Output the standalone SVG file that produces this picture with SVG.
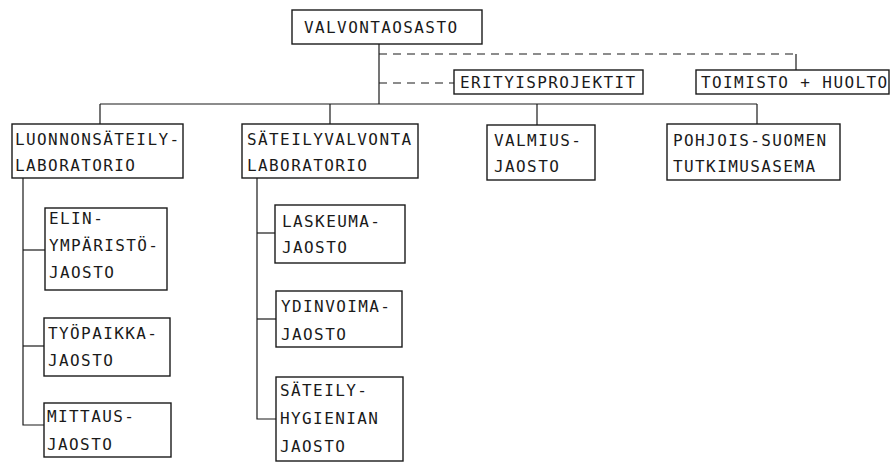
<svg xmlns="http://www.w3.org/2000/svg" width="891" height="462" viewBox="0 0 891 462">
<style>
  .box { fill: #ffffff; stroke: #1a1a1a; stroke-width: 1.4; }
  .t { font-family: "DejaVu Sans Mono", "Liberation Mono", monospace; font-size: 16px; letter-spacing: 1.4px; fill: #1a1a1a; }
  .ln { stroke: #1a1a1a; stroke-width: 1.2; fill: none; }
  .dash { stroke: #1a1a1a; stroke-width: 1.2; fill: none; stroke-dasharray: 8 6; }
</style>
<rect x="0" y="0" width="891" height="462" fill="#ffffff"/>
<g id="connectors">
  <line class="ln" x1="379" y1="44" x2="379" y2="104"/>
  <line class="dash" x1="379" y1="54" x2="796" y2="54"/>
  <line class="ln" x1="796" y1="54" x2="796" y2="70"/>
  <line class="dash" x1="379" y1="83" x2="454" y2="83"/>
  <line class="ln" x1="100" y1="104" x2="757" y2="104"/>
  <line class="ln" x1="100" y1="104" x2="100" y2="124"/>
  <line class="ln" x1="330" y1="104" x2="330" y2="124"/>
  <line class="ln" x1="537" y1="104" x2="537" y2="125"/>
  <line class="ln" x1="757" y1="104" x2="757" y2="124"/>
  <polyline class="ln" points="23,178 23,425 44,425"/>
  <line class="ln" x1="23" y1="250" x2="45" y2="250"/>
  <line class="ln" x1="23" y1="346" x2="44" y2="346"/>
  <polyline class="ln" points="257,178 257,419 276,419"/>
  <line class="ln" x1="257" y1="233" x2="275" y2="233"/>
  <line class="ln" x1="257" y1="319" x2="276" y2="319"/>
</g>
<g id="n_valvontaosasto">
  <rect class="box" x="292" y="10" width="190" height="34"/>
  <text class="t" x="304" y="33">VALVONTAOSASTO</text>
</g>
<g id="n_erityisprojektit">
  <rect class="box" x="454" y="70" width="189" height="24"/>
  <text class="t" x="460" y="88">ERITYISPROJEKTIT</text>
</g>
<g id="n_toimisto">
  <rect class="box" x="696" y="70" width="193" height="24"/>
  <text class="t" x="701" y="88">TOIMISTO + HUOLTO</text>
</g>
<g id="n_luonnonsateily">
  <rect class="box" x="12" y="124" width="171" height="54"/>
  <text class="t" x="15" y="145">LUONNONSÄTEILY-</text>
  <text class="t" x="15" y="171">LABORATORIO</text>
</g>
<g id="n_sateilyvalvonta">
  <rect class="box" x="242" y="124" width="176" height="54"/>
  <text class="t" x="247" y="145">SÄTEILYVALVONTA</text>
  <text class="t" x="247" y="171">LABORATORIO</text>
</g>
<g id="n_valmius">
  <rect class="box" x="487" y="125" width="108" height="55"/>
  <text class="t" x="494" y="146">VALMIUS-</text>
  <text class="t" x="494" y="172">JAOSTO</text>
</g>
<g id="n_pohjois">
  <rect class="box" x="667" y="124" width="173" height="56"/>
  <text class="t" x="673" y="146">POHJOIS-SUOMEN</text>
  <text class="t" x="673" y="172">TUTKIMUSASEMA</text>
</g>
<g id="n_elinymparisto">
  <rect class="box" x="45" y="208" width="122" height="82"/>
  <text class="t" x="49" y="224">ELIN-</text>
  <text class="t" x="49" y="251">YMPÄRISTÖ-</text>
  <text class="t" x="49" y="278">JAOSTO</text>
</g>
<g id="n_tyopaikka">
  <rect class="box" x="44" y="318" width="126" height="58"/>
  <text class="t" x="48" y="339">TYÖPAIKKA-</text>
  <text class="t" x="48" y="366">JAOSTO</text>
</g>
<g id="n_mittaus">
  <rect class="box" x="44" y="403" width="127" height="54"/>
  <text class="t" x="47" y="422">MITTAUS-</text>
  <text class="t" x="47" y="450">JAOSTO</text>
</g>
<g id="n_laskeuma">
  <rect class="box" x="275" y="205" width="130" height="58"/>
  <text class="t" x="282" y="227">LASKEUMA-</text>
  <text class="t" x="282" y="253">JAOSTO</text>
</g>
<g id="n_ydinvoima">
  <rect class="box" x="276" y="291" width="126" height="56"/>
  <text class="t" x="281" y="312">YDINVOIMA-</text>
  <text class="t" x="281" y="340">JAOSTO</text>
</g>
<g id="n_sateilyhygienia">
  <rect class="box" x="276" y="377" width="127" height="84"/>
  <text class="t" x="280" y="396">SÄTEILY-</text>
  <text class="t" x="280" y="424">HYGIENIAN</text>
  <text class="t" x="280" y="452">JAOSTO</text>
</g>
</svg>
